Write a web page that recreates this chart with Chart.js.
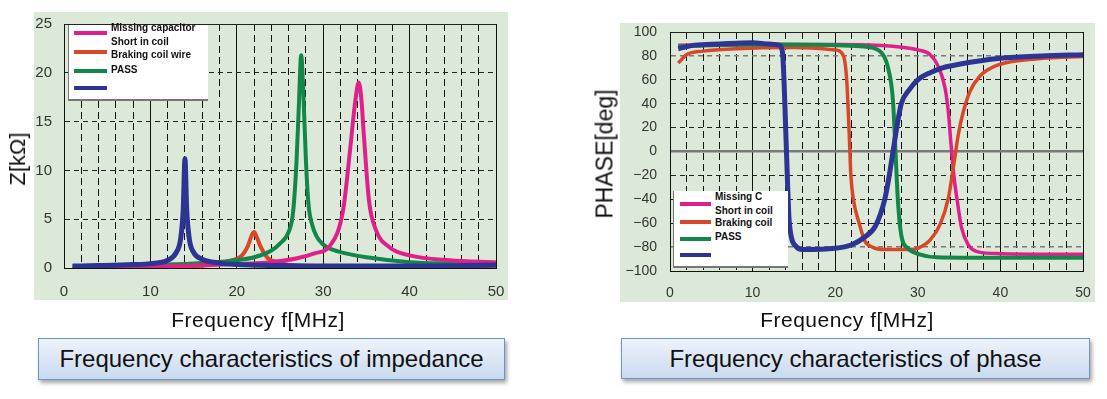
<!DOCTYPE html>
<html>
<head>
<meta charset="utf-8">
<script src="https://cdn.jsdelivr.net/npm/chart.js@4/dist/chart.umd.min.js"></script>
<style>
  body { margin: 0; background: #fff; width: 1107px; height: 399px; position: relative; overflow: hidden;
         font-family: "Liberation Sans", "Noto Sans CJK JP", sans-serif; }
  canvas { position: absolute; top: 0; }
  .axt { position: absolute; color: #111; white-space: nowrap; }
  .legend { position: absolute; background: #fff; border-left: 1px solid #777; border-bottom: 2px solid #777; }
  .legend .ln { position: absolute; height: 4px; }
  .legend .tx { position: absolute; font: bold 10px "Liberation Sans", sans-serif; color: #111; white-space: nowrap; line-height: 12px; }
  .cap { position: absolute; box-sizing: border-box; border: 1px solid #6e93c6;
         background: linear-gradient(#eef3fa, #c9daf0); box-shadow: 2px 3px 4px rgba(0,0,0,0.35);
         font-size: 24px; color: #111; text-align: center; }
</style>
</head>
<body>
<canvas id="zChart" width="520" height="335" style="left:0"></canvas>
<canvas id="pChart" width="527" height="335" style="left:580px"></canvas>

<div class="axt" style="left:18px;top:159px;font-size:22px;transform:translate(-50%,-50%) rotate(-90deg)">Z[kΩ]</div>
<div class="axt" style="left:258px;top:320px;font-size:21px;letter-spacing:0.5px;transform:translate(-50%,-50%)">Frequency f[MHz]</div>
<div class="axt" style="left:605px;top:154px;font-size:23px;transform:translate(-50%,-50%) rotate(-90deg)">PHASE[deg]</div>
<div class="axt" style="left:847px;top:320px;font-size:21px;letter-spacing:0.5px;transform:translate(-50%,-50%)">Frequency f[MHz]</div>

<div class="legend" style="left:68px;top:25px;width:139px;height:74px">
  <div class="ln" style="left:5px;top:6px;width:33px;background:#e0208a"></div>
  <div class="ln" style="left:5px;top:25px;width:33px;background:#d9472b"></div>
  <div class="ln" style="left:5px;top:44px;width:33px;background:#13864a"></div>
  <div class="ln" style="left:5px;top:61px;width:33px;background:#2c3593"></div>
  <div class="tx" style="left:42px;top:-3px">Missing capacitor</div>
  <div class="tx" style="left:42px;top:11px">Short in coil</div>
  <div class="tx" style="left:42px;top:24px">Braking coil wire</div>
  <div class="tx" style="left:42px;top:39px">PASS</div>
</div>

<div class="legend" style="left:673px;top:191px;width:114px;height:75px">
  <div class="ln" style="left:6px;top:11px;width:31px;background:#e0208a"></div>
  <div class="ln" style="left:6px;top:29px;width:31px;background:#d9472b"></div>
  <div class="ln" style="left:6px;top:46px;width:31px;background:#13864a"></div>
  <div class="ln" style="left:6px;top:62px;width:31px;background:#2c3593"></div>
  <div class="tx" style="left:41px;top:0px">Missing C</div>
  <div class="tx" style="left:41px;top:14px">Short in coil</div>
  <div class="tx" style="left:41px;top:26px">Braking coil</div>
  <div class="tx" style="left:41px;top:40px">PASS</div>
</div>

<div class="cap" style="left:38px;top:338px;width:467px;height:42px;line-height:40px">Frequency characteristics of impedance</div>
<div class="cap" style="left:621px;top:338px;width:469px;height:41px;line-height:39px">Frequency characteristics of phase</div>

<script>
// impedance, kOhm vs MHz
var zPinkF = [1, 5, 10, 15, 20, 24, 27, 29, 30.8, 32.3, 33.1, 33.7, 34.1, 34.4, 34.7, 35.3, 36.1, 37.7, 40, 44.6, 50];
var zPinkV = [0.05, 0.1, 0.15, 0.25, 0.4, 0.6, 1.0, 1.5, 2.3, 5.9, 12, 17, 19, 17.5, 13.7, 6.9, 3.9, 2.1, 1.3, 0.8, 0.6];
var zRedF = [1, 10, 17, 19, 20.6, 21.3, 21.8, 22.0, 22.3, 22.7, 23.6, 24.9, 26, 30, 40, 50];
var zRedV = [0.05, 0.1, 0.3, 0.7, 1.3, 2.3, 3.5, 3.7, 3.2, 2.3, 1.0, 0.6, 0.3, 0.15, 0.1, 0.1];
var zGreenF = [1, 10, 15, 20, 22, 24, 25, 26, 26.5, 26.9, 27.2, 27.45, 27.7, 28.0, 28.3, 28.7, 29.2, 30, 31, 32.6, 35, 40, 45, 50];
var zGreenV = [0.2, 0.3, 0.45, 0.8, 1.1, 1.8, 2.5, 3.7, 5.6, 10.7, 17, 21.8, 18, 11, 6.5, 4.5, 3.3, 2.4, 1.9, 1.5, 1.1, 0.6, 0.45, 0.35];
var zBlueF = [1, 4, 8, 10, 12, 13, 13.5, 13.8, 14.0, 14.2, 14.5, 15, 16, 18, 20, 25, 30, 40, 50];
var zBlueV = [0.2, 0.25, 0.35, 0.45, 0.8, 1.6, 3.0, 6.0, 11.2, 6.0, 3.0, 1.6, 0.9, 0.5, 0.35, 0.25, 0.2, 0.2, 0.3];

// phase, deg vs MHz
var pPinkF = [1, 10, 20, 25, 27, 30, 31.5, 32.5, 33.3, 33.7, 34.0, 34.4, 34.9, 35.3, 36.1, 37.3, 40, 50];
var pPinkV = [89, 89.5, 89.5, 89, 88, 85, 81, 71, 53, 33, 8, -22, -47, -64, -78, -84, -85.5, -86];
var pRedF = [1, 2, 4, 8, 15, 20, 21, 21.4, 21.7, 21.9, 22.2, 22.9, 23.6, 24.5, 26, 29, 30, 31.5, 32.7, 33.7, 34.4, 34.9, 35.5, 36.3, 37.5, 39.2, 41.2, 45.2, 50];
var pRedV = [74, 81, 84, 86, 87, 85, 80, 59, 14, -20, -40, -60, -75, -80, -82, -82, -81, -74, -61, -39, -9, 14, 33, 50, 63, 71, 75, 78, 79.5];
var pGreenF = [1, 5, 13, 20, 23, 25.4, 26.4, 27, 27.3, 27.6, 28, 28.8, 30.2, 32.3, 40, 50];
var pGreenV = [88, 89, 89.5, 89, 88, 84, 70, 42, 0, -42, -70, -81, -86, -88.5, -89, -89];
var pBlueF = [1, 3, 6, 10, 12, 13.2, 13.6, 13.8, 14.0, 14.2, 14.4, 14.7, 15.2, 16, 20, 22, 23.5, 24.9, 26, 26.5, 27, 27.5, 28, 29, 30, 31.5, 33, 35, 40, 45, 50];
var pBlueV = [86, 89, 90, 91, 90, 89, 84, 60, 20, -20, -55, -72, -79, -82, -81, -78, -72, -62, -40, -22, 0, 22, 40, 52, 60, 66, 70, 73, 78, 80, 81];

var zTicks = [0, 5, 10, 15, 20, 25];
var pTicks = [-100, -80, -60, -40, -20, 0, 20, 40, 60, 80, 100];

var PINK = '#e0208a', RED = '#d9472b', GREEN = '#13864a', BLUE = '#2c3593';

function pts(f, v) {
    return f.map(function (x, i) { return {x: x, y: v[i]}; });
}

function line(data, color, width, order) {
    return {
        data: data, borderColor: color, borderWidth: width, pointRadius: 0,
        cubicInterpolationMode: 'monotone', fill: false, order: order
    };
}

// green panel behind the plot
var panelPlugin = {
    id: 'panel',
    beforeDraw: function (chart, args, o) {
        var a = chart.chartArea, ctx = chart.ctx;
        ctx.save();
        ctx.fillStyle = '#dde9d8';
        ctx.fillRect(a.left - o.l, a.top - o.t, a.right - a.left + o.l + o.r, a.bottom - a.top + o.t + o.b);
        ctx.restore();
    }
};

function freqAxis(h, pad, fs) {
    return {
        type: 'linear', min: 0, max: 50,
        afterFit: function (s) { s.height = h; },
        ticks: {
            stepSize: 2, autoSkip: false, maxRotation: 0, padding: pad, color: '#333',
            font: {family: 'Liberation Sans', size: fs},
            callback: function (v) { return v % 10 === 0 ? v : ''; }
        },
        grid: {
            drawTicks: false,
            color: '#111',
            lineWidth: 1
        },
        border: {
            color: '#111', width: 1,
            dash: function (c) { return c.tick && c.tick.value % 10 !== 0 ? [7, 4] : []; }
        }
    };
}

var zChart = new Chart(document.getElementById('zChart'), {
    type: 'line',
    data: {
        datasets: [
            line(pts(zBlueF, zBlueV), BLUE, 5, 0),
            line(pts(zPinkF, zPinkV), PINK, 4, 1),
            line(pts(zGreenF, zGreenV), GREEN, 4, 2),
            line(pts(zRedF, zRedV), RED, 4, 3)
        ]
    },
    options: {
        responsive: false, animation: false, devicePixelRatio: 1,
        layout: {padding: {left: 0, top: 24, right: 24, bottom: 0}},
        plugins: {legend: {display: false}, tooltip: {enabled: false}, panel: {l: 30, t: 12, r: 12, b: 32}},
        scales: {
            x: freqAxis(67, 15, 15),
            y: {
                type: 'linear', min: 0, max: 25,
                afterFit: function (s) { s.width = 64; },
                afterBuildTicks: function (s) { s.ticks = zTicks.map(function (v) { return {value: v}; }); },
                ticks: {padding: 12, color: '#333', font: {family: 'Liberation Sans', size: 15}},
                grid: {drawTicks: false, color: '#222', lineWidth: 1},
                border: {
                    color: '#111', width: 1,
                    dash: function (c) { return c.tick && c.tick.value !== 25 ? [5, 4] : []; }
                }
            }
        }
    },
    plugins: [panelPlugin]
});

var pChart = new Chart(document.getElementById('pChart'), {
    type: 'line',
    data: {
        datasets: [
            line(pts(pBlueF, pBlueV), BLUE, 5, 0),
            line(pts(pGreenF, pGreenV), GREEN, 4, 1),
            line(pts(pRedF, pRedV), RED, 3.5, 2),
            line(pts(pPinkF, pPinkV), PINK, 3.5, 3)
        ]
    },
    options: {
        responsive: false, animation: false, devicePixelRatio: 1,
        layout: {padding: {left: 0, top: 32, right: 24, bottom: 0}},
        plugins: {legend: {display: false}, tooltip: {enabled: false}, panel: {l: 50, t: 9, r: 12, b: 31}},
        scales: {
            x: freqAxis(64, 14, 14),
            y: {
                type: 'linear', min: -100, max: 100,
                afterFit: function (s) { s.width = 90; },
                afterBuildTicks: function (s) { s.ticks = pTicks.map(function (v) { return {value: v}; }); },
                ticks: {
                    padding: 13, color: '#333', font: {family: 'Liberation Sans', size: 14},
                    callback: function (v) { return v < 0 ? '\u2212' + Math.abs(v) : v; }
                },
                grid: {
                    drawTicks: false,
                    color: function (c) { return c.tick && (c.tick.value === 0 || Math.abs(c.tick.value) === 80) ? '#7a7a7a' : '#222'; },
                    lineWidth: function (c) { return c.tick && c.tick.value === 0 ? 2.5 : (c.tick && Math.abs(c.tick.value) === 80 ? 1.5 : 1); }
                },
                border: {
                    color: '#111', width: 1,
                    dash: function (c) {
                        if (!c.tick) return [];
                        var v = c.tick.value;
                        return (v === 0 || v === 100 || v === -100) ? [] : [5, 4];
                    }
                }
            }
        }
    },
    plugins: [panelPlugin]
});
</script>
</body>
</html>
